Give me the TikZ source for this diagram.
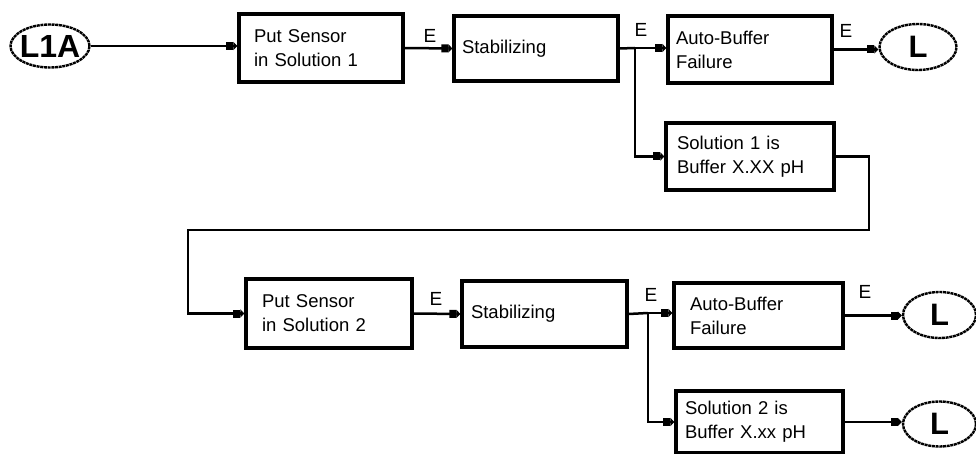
\documentclass[tikz,border=0pt]{standalone}
\usepackage{fontspec}
\setmainfont{Liberation Sans}
\usetikzlibrary{arrows.meta,shapes.geometric}
\begin{document}
\begin{tikzpicture}[x=1pt,y=-1pt,
  box/.style={draw,line width=3.2pt,align=left,anchor=center,font=\fontsize{18.5}{24}\selectfont,inner ysep=0pt},
  conn/.style={line width=2.5pt},
  arr/.style={conn,-{Rectangle[length=7pt,width=8pt]Triangle[length=4pt,width=8pt]}},
  term/.style={draw,ellipse,line width=2.4pt,dash pattern=on 3pt off 0.7pt,inner sep=0pt},
  elab/.style={font=\fontsize{19}{19}\selectfont,inner sep=0pt}]
\useasboundingbox (0,0) rectangle (976,454);
\node[term,minimum width=79pt,minimum height=43pt,label={[font=\fontsize{32}{32}\selectfont\bfseries]center:L1A}] (L1A) at (50,46) {};
\node[box,text width=134pt,inner xsep=15pt,minimum height=68pt] (b1) at (321,48) {Put Sensor\\in Solution 1};
\node[box,text width=148pt,inner xsep=8pt,minimum height=65pt] (b2) at (536,48.5) {Stabilizing};
\node[box,text width=148pt,inner xsep=8pt,minimum height=67pt] (b3) at (750,49.5) {Auto-Buffer\\Failure};
\node[box,text width=146pt,inner xsep=11pt,minimum height=67pt] (b4) at (750,156.5) {Solution 1 is\\Buffer X.XX pH};
\node[term,minimum width=77pt,minimum height=46pt,label={[font=\fontsize{31}{31}\selectfont\bfseries]center:L}] (L1) at (918,47) {};
\node[box,text width=134pt,inner xsep=16pt,minimum height=69pt] (b5) at (329,313.5) {Put Sensor\\in Solution 2};
\node[box,text width=147pt,inner xsep=9pt,minimum height=66pt] (b6) at (544.5,314) {Stabilizing};
\node[box,text width=137pt,inner xsep=16pt,minimum height=65pt] (b7) at (758.5,315.5) {Auto-Buffer\\Failure};
\node[box,text width=149pt,inner xsep=9pt,minimum height=62pt] (b8) at (759.5,422) {Solution 2 is\\Buffer X.xx pH};
\node[term,minimum width=73pt,minimum height=46pt,label={[font=\fontsize{31}{31}\selectfont\bfseries]center:L}] (L2) at (939.5,315) {};
\node[term,minimum width=73pt,minimum height=45pt,label={[font=\fontsize{31}{31}\selectfont\bfseries]center:L}] (L3) at (939.5,424) {};
\node[elab] (e1) at (430,36) {E};
\node[elab] (e2) at (641,30) {E};
\node[elab] (e3) at (846,31) {E};
\node[elab] (e4) at (436,299) {E};
\node[elab] (e5) at (651,295) {E};
\node[elab] (e6) at (865,292) {E};
\coordinate (s1) at (635,48);
\coordinate (s2) at (648,313);
\coordinate (c1) at (869,230);
\coordinate (c2) at (188,230);
\draw[arr] (L1A.east) -- (L1A -| b1.west);
\draw[arr] (b1.east) -- (b2.west);
\draw[conn] (b2.east) -- (s1);
\draw[arr] (s1) -- (s1 -| b3.west);
\draw[arr] (s1) |- (b4.west);
\draw[arr] (b3.east) -- (b3.east -| L1.west);
\draw[arr,line join=miter] (b4.east) -| (c1) -- (c2) |- (b5.west);
\draw[arr] (b5.east) -- (b6.west);
\draw[conn] (b6.east) -- (s2);
\draw[arr] (s2) -- (s2 -| b7.west);
\draw[arr] (s2) |- (b8.west);
\draw[arr] (b7.east) -- (b7.east -| L2.west);
\draw[arr] (b8.east) -- (b8.east -| L3.west);
\end{tikzpicture}
\end{document}
